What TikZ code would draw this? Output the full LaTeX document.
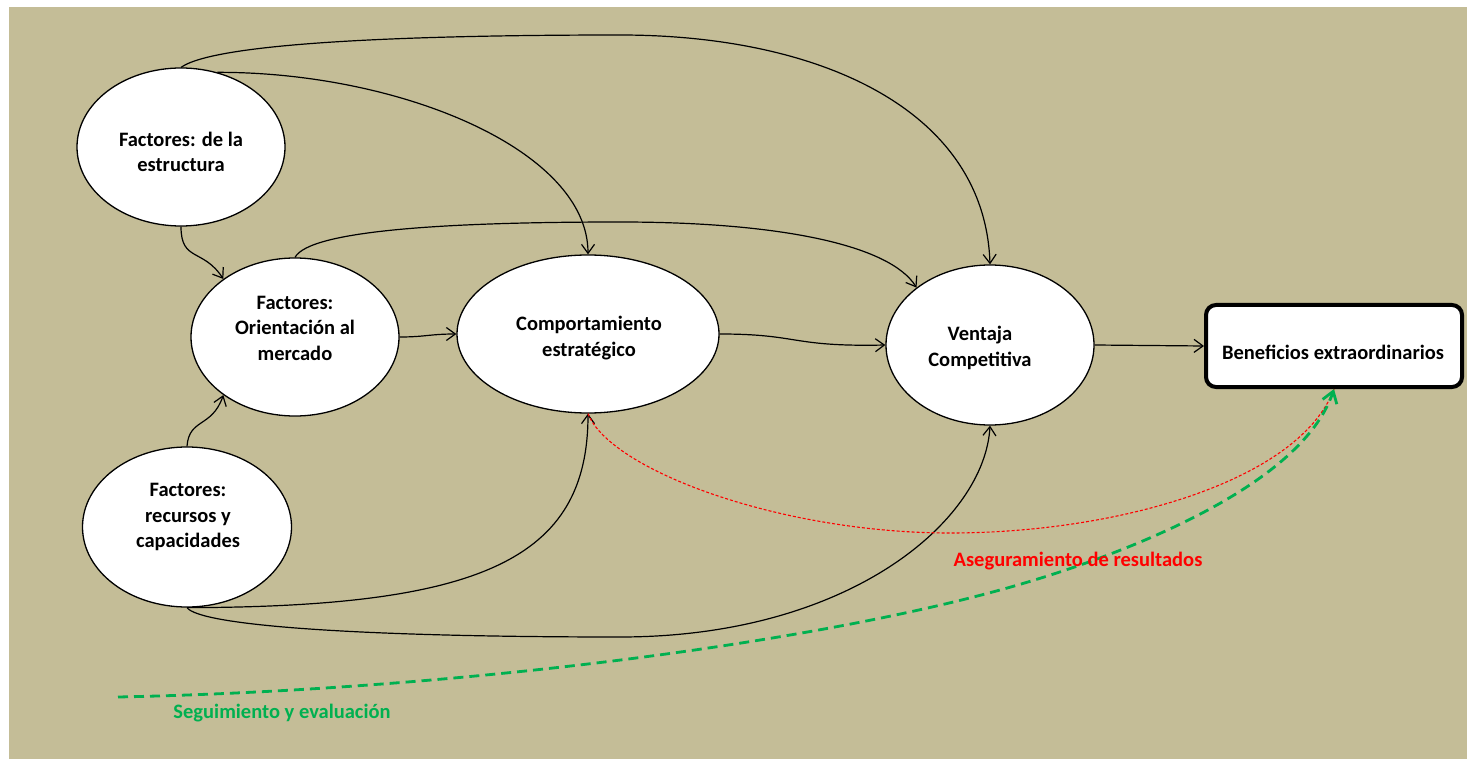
\documentclass[tikz,border=0pt]{standalone}
\usepackage{fontspec}
\setmainfont{Carlito}
\usetikzlibrary{shapes.geometric,arrows.meta}
\definecolor{khaki}{HTML}{C4BD97}
\definecolor{ggreen}{HTML}{00B050}
\begin{document}
\begin{tikzpicture}[x=1pt,y=-1pt,
  every node/.style={font=\fontsize{20.5}{25.5}\selectfont\bfseries},
  oval/.style={ellipse,draw=black,line width=1.3pt,fill=white,inner sep=0pt},
  lbl/.style={align=center,inner sep=0pt},
  conn/.style={draw=black,line width=1.2pt,-{Straight Barb[length=9pt,width=13pt,line width=1.2pt]}},
  reddots/.style={draw=red,line width=1.1pt,dash pattern=on 3pt off 2pt},
  greendash/.style={draw=ggreen,line width=2.8pt,dash pattern=on 10pt off 6pt,
    -{Straight Barb[length=11pt,width=15pt,line width=2.8pt]}}]
\useasboundingbox (0,0) rectangle (1467,759);
\fill[white] (0,0) rectangle (1467,759);
\fill[khaki] (9,7) rectangle (1467,759);

% nodes
\node[oval,minimum width=208pt,minimum height=158pt] (e1) at (181,147) {};
\node[oval,minimum width=208pt,minimum height=158pt] (e2) at (295,337) {};
\node[oval,minimum width=209pt,minimum height=160pt] (e3) at (187,527) {};
\node[oval,minimum width=262pt,minimum height=158pt] (cs) at (588,334) {};
\node[oval,minimum width=208pt,minimum height=160pt] (vc) at (990,345) {};
\node[draw=black,line width=4pt,fill=white,rounded corners=10pt,
      minimum width=256pt,minimum height=82pt] (bx) at (1334,346) {};

\node[lbl] (t1) at (181,152) {Factores: de la\\estructura};
\node[lbl] (t2) at (295,328) {Factores:\\Orientación al\\mercado};
\node[lbl] (t3) at (589,338) {Comportamiento\\estratégico};
\node[lbl] (t4) at (980,348) {Ventaja\\Competitiva};
\node[lbl] (t5) at (188,517) {Factores:\\recursos y\\capacidades};
\node[lbl] (t6) at (1333,352) {Beneficios extraordinarios};

% connectors
\path[conn] (e1.north) .. controls (220,40) and (450,35) .. (620,35)
  .. controls (820,35) and (985,110) .. (vc.north);
\path[conn] (e1.64) .. controls (400,72) and (588,150) .. (cs.north);
\path[conn] (e1.south) .. controls (181,262) and (203,248) .. (e2.141);
\path[conn] (e2.north) .. controls (310,230) and (450,222) .. (620,222)
  .. controls (780,222) and (890,245) .. (vc.142);
\path[conn] (e2.east) .. controls (425,337) and (430,334) .. (cs.west);
\path[conn] (cs.east) .. controls (800,334) and (790,347) .. (vc.west);
\path[conn] (vc.east) -- (bx.west);
\path[conn] (e3.north) .. controls (189,418) and (212,428) .. (e2.219);
\path[conn] (e3.south) .. controls (480,607) and (588,560) .. (cs.south);
\path[conn] (e3.south) .. controls (200,625) and (350,637) .. (620,637)
  .. controls (850,637) and (985,520) .. (vc.south);

% dashed feedback curves
\path[reddots] (cs.south) .. controls (610,470) and (780,533) .. (950,533)
  .. controls (1120,533) and (1300,480) .. (bx.south);
\coordinate (gs) at (118,697);
\path[greendash] (gs) .. controls (450,690) and (800,645) .. (1000,590)
  .. controls (1110,560) and (1300,490) .. (bx.south);

\node[text=red,inner sep=0pt] (ar) at (1078,561) {Aseguramiento de resultados};
\node[text=ggreen,inner sep=0pt] (se) at (282,713) {Seguimiento y evaluación};
\end{tikzpicture}
\end{document}
